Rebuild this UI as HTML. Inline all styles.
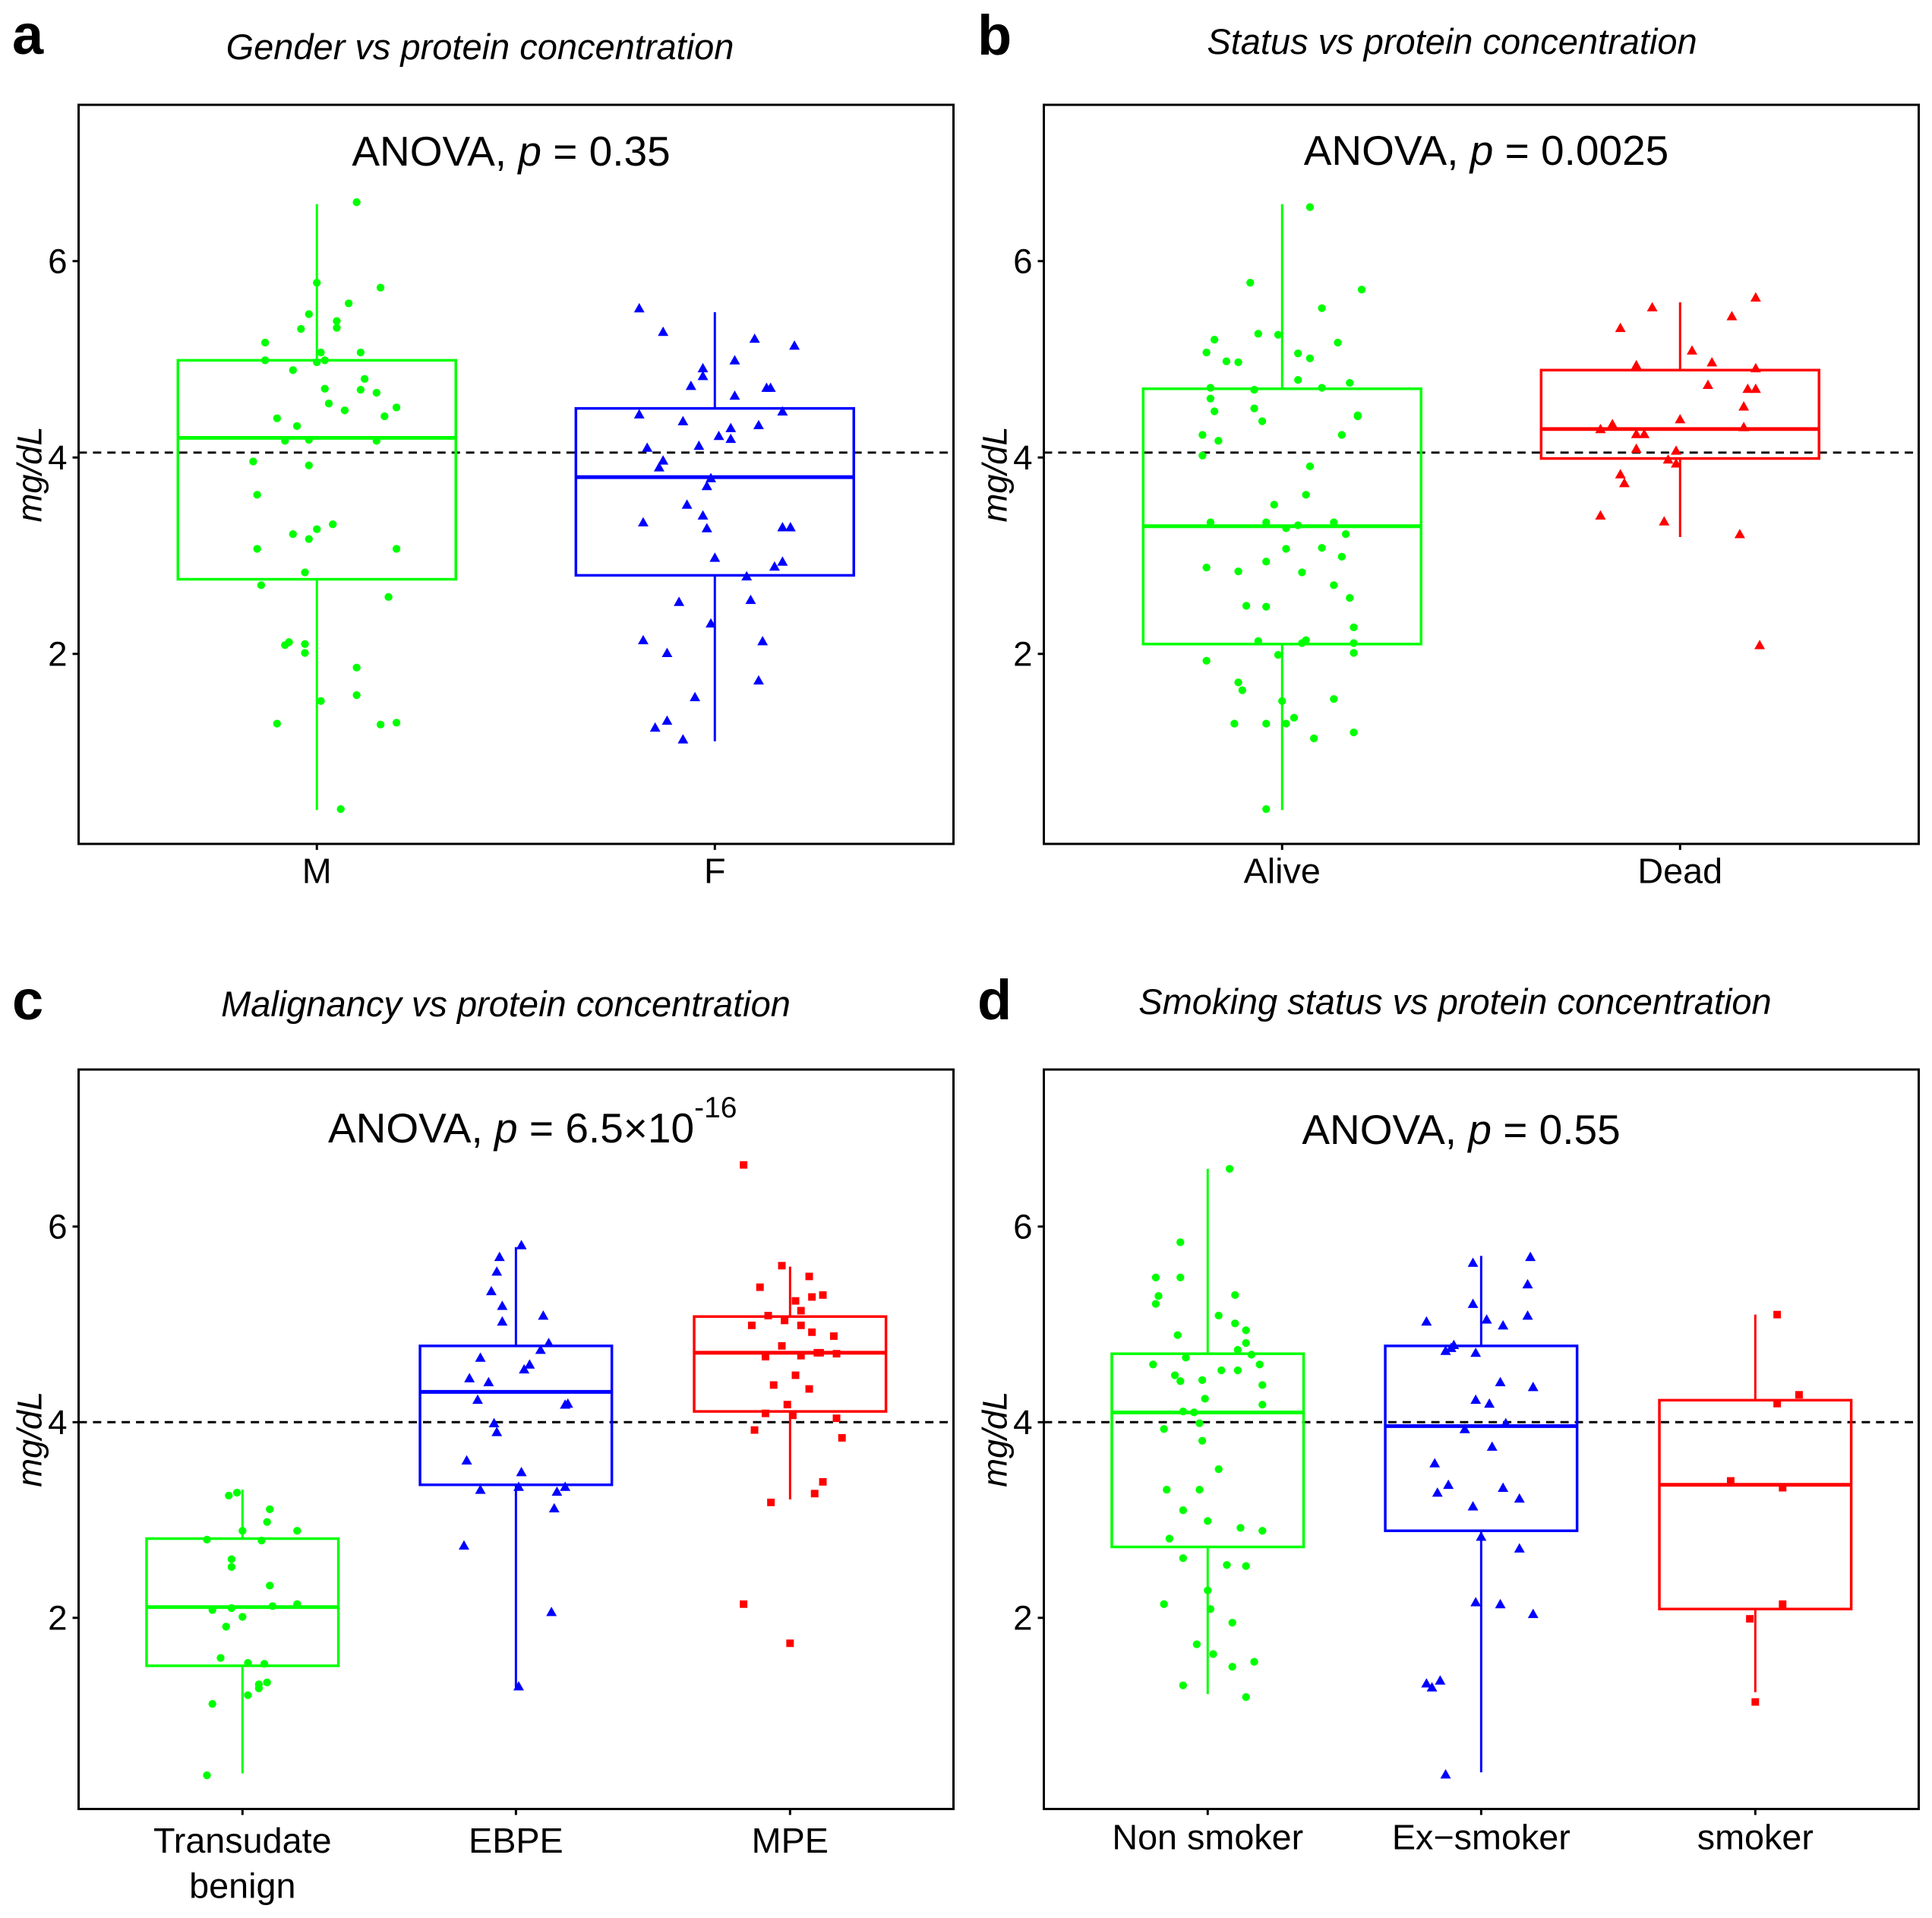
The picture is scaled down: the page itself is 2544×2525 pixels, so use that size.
<!DOCTYPE html>
<html><head><meta charset="utf-8">
<style>
html,body{margin:0;padding:0;background:#fff;}
svg text{font-family:"Liberation Sans",Arial,sans-serif;fill:#000;}
</style></head>
<body>
<svg id="fig" xmlns="http://www.w3.org/2000/svg" width="2544" height="2520" viewBox="0 0 2544 2520">
<rect x="0" y="0" width="2544" height="2520" fill="#fff"/>
</svg>
<script>
// ---------- DATA ----------
// Panel a: Gender
const aCats = ["M","F"];
const aMVals = [6.60,5.78,5.73,5.57,5.46,5.39,5.31,5.32,5.17,5.07,5.07,4.99,4.97,4.99,4.89,4.80,4.70,4.69,4.66,4.55,4.48,4.51,4.40,4.42,4.32,4.17,4.18,4.17,3.96,3.92,3.62,3.32,3.27,3.22,3.17,3.07,3.07,2.83,2.70,2.58,2.09,2.12,2.10,2.01,1.86,1.58,1.52,1.29,1.28,1.30,0.42];
const aMJit = [0.10,0.00,0.16,0.08,-0.02,0.05,-0.04,0.05,-0.13,0.11,0.01,-0.13,0.00,0.02,-0.06,0.12,0.02,0.11,0.15,0.03,0.07,0.20,-0.10,0.17,-0.05,-0.08,-0.02,0.15,-0.16,-0.02,-0.15,0.04,0.00,-0.06,-0.02,-0.15,0.20,-0.03,-0.14,0.18,-0.08,-0.07,-0.03,-0.03,0.10,0.10,0.01,-0.10,0.16,0.20,0.06];
const aFVals = [5.52,5.28,5.21,5.14,4.99,4.91,4.83,4.73,4.63,4.71,4.71,4.44,4.37,4.33,4.30,4.47,4.22,4.19,4.10,4.12,3.97,3.90,3.79,3.71,3.52,3.34,3.41,3.28,3.29,3.29,2.98,2.94,2.89,2.79,2.53,2.55,2.31,2.14,2.13,2.01,1.73,1.56,1.32,1.25,1.13];
const aFJit = [-0.19,-0.13,0.10,0.20,0.05,-0.03,-0.03,-0.06,0.05,0.13,0.14,-0.19,-0.08,0.11,0.04,0.17,0.01,0.04,-0.17,-0.04,-0.13,-0.14,-0.01,-0.02,-0.07,-0.18,-0.03,-0.02,0.17,0.19,0.00,0.17,0.15,0.08,-0.09,0.09,-0.01,-0.18,0.12,-0.12,0.11,-0.05,-0.12,-0.15,-0.08];
const aMStats = [0.41,2.76,4.20,4.99,6.58];
const aFStats = [1.11,2.80,3.80,4.50,5.48];

// Panel b: Status
const bCats = ["Alive","Dead"];
const bAVals = [6.55,5.78,5.71,5.52,5.20,5.26,5.25,5.17,5.07,5.06,5.01,4.98,4.97,4.79,4.76,4.71,4.71,4.69,4.60,4.50,4.47,4.43,4.42,4.37,4.23,4.23,4.17,4.02,3.91,3.62,3.52,3.34,3.34,3.31,3.34,3.28,3.22,3.08,3.07,2.99,2.94,2.88,2.84,2.83,2.70,2.57,2.49,2.48,2.27,2.13,2.14,2.11,2.11,1.99,2.01,1.93,1.71,1.63,1.52,1.54,1.29,1.29,1.29,1.35,1.20,1.14,0.42];
const bAJit = [0.07,-0.08,0.20,0.10,-0.17,-0.06,-0.01,0.14,-0.19,0.04,0.07,-0.14,-0.11,0.04,0.17,-0.18,0.10,-0.07,-0.18,-0.07,-0.17,0.19,0.19,-0.05,-0.20,0.15,-0.16,-0.20,0.07,0.06,-0.02,-0.18,-0.04,0.04,0.13,0.01,0.16,0.10,0.01,0.15,-0.04,-0.19,-0.11,0.05,0.13,0.17,-0.09,-0.04,0.18,-0.06,0.06,0.05,0.18,-0.01,0.18,-0.19,-0.11,-0.10,0.00,0.13,-0.12,-0.04,0.01,0.03,0.18,0.08,-0.04];
const bDVals = [5.63,5.53,5.44,5.32,5.09,4.97,4.94,4.91,4.74,4.70,4.70,4.52,4.34,4.39,4.29,4.31,4.24,4.24,4.09,4.07,3.98,3.94,3.83,3.74,3.41,3.35,3.22,2.09];
const bDJit = [0.19,-0.07,0.13,-0.15,0.03,0.08,-0.11,0.19,0.07,0.17,0.19,0.16,-0.17,0.00,-0.20,0.16,-0.11,-0.09,-0.11,-0.01,-0.03,-0.01,-0.15,-0.14,-0.20,-0.04,0.15,0.20];
const bAStats = [0.41,2.10,3.30,4.70,6.58];
const bDStats = [3.19,3.99,4.29,4.89,5.58];

// Panel c: Malignancy
const cCats = ["Transudate|benign","EBPE","MPE"];
const cTVals = [3.28,3.25,3.11,2.98,2.89,2.89,2.80,2.79,2.60,2.52,2.33,2.08,2.10,2.12,2.14,2.01,1.91,1.59,1.54,1.53,1.34,1.32,1.28,1.21,1.12,0.39];
const cTJit = [-0.02,-0.05,0.10,0.09,0.00,0.20,-0.13,0.07,-0.04,-0.04,0.10,-0.11,-0.04,0.11,0.20,0.00,-0.06,-0.08,0.02,0.08,0.09,0.06,0.06,0.02,-0.11,-0.13];
const cEVals = [5.81,5.69,5.54,5.34,5.19,5.03,5.09,4.81,4.74,4.59,4.54,4.66,4.45,4.41,4.23,4.18,4.19,3.99,3.90,3.61,3.49,3.34,3.31,3.29,3.34,3.12,2.74,2.06,1.30];
const cEJit = [0.02,-0.06,-0.07,-0.09,-0.05,-0.05,0.10,0.12,0.09,0.05,0.03,-0.13,-0.17,-0.10,-0.14,0.18,0.19,-0.08,-0.07,-0.18,0.02,0.01,-0.13,0.15,0.18,0.14,-0.19,0.13,0.01];
const cMVals = [6.63,5.60,5.49,5.38,5.24,5.28,5.30,5.14,5.09,5.04,4.99,4.99,4.92,4.88,4.78,4.71,4.71,4.70,4.67,4.68,4.48,4.38,4.34,4.18,4.09,4.07,4.04,3.92,3.84,3.39,3.27,3.18,2.14,1.74];
const cMJit = [-0.17,-0.03,0.07,-0.11,0.02,0.08,0.12,0.04,-0.08,-0.02,-0.14,0.04,0.08,0.16,-0.03,0.11,0.10,0.17,-0.09,0.04,0.02,-0.06,0.07,-0.01,-0.09,0.01,0.17,-0.13,0.19,0.12,0.09,-0.07,-0.17,0.00];
const cTStats = [0.41,1.51,2.11,2.81,3.31];
const cEStats = [1.29,3.36,4.31,4.78,5.79];
const cMStats = [3.21,4.11,4.71,5.08,5.59];

// Panel d: Smoking
const dCats = ["Non smoker","Ex\u2212smoker","smoker"];
const dNVals = [6.59,5.84,5.48,5.48,5.29,5.30,5.21,5.09,5.01,4.94,4.89,4.81,4.74,4.69,4.66,4.59,4.59,4.48,4.42,4.43,4.53,4.53,4.38,4.24,4.18,4.11,4.10,3.99,3.93,3.81,3.52,3.31,3.31,3.10,2.99,2.92,2.89,2.81,2.61,2.54,2.53,2.28,2.14,2.09,1.95,1.73,1.63,1.50,1.55,1.31,1.19];
const dNJit = [0.08,-0.10,-0.19,-0.10,-0.18,0.10,-0.19,0.04,0.10,0.14,-0.11,0.14,0.11,0.16,-0.08,-0.20,0.19,-0.12,-0.10,-0.02,0.05,0.11,0.20,-0.01,0.20,-0.09,-0.05,-0.03,-0.16,-0.02,0.04,-0.15,-0.03,-0.09,0.00,0.12,0.20,-0.14,-0.09,0.07,0.14,0.00,-0.16,0.01,0.09,-0.04,0.02,0.09,0.17,-0.09,0.14];
const dEVals = [5.69,5.63,5.41,5.21,5.09,5.03,5.05,4.99,4.79,4.76,4.73,4.71,4.41,4.36,4.23,4.19,3.99,3.93,3.75,3.58,3.36,3.28,3.33,3.22,3.14,2.83,2.71,2.16,2.14,2.04,1.36,1.33,1.29,0.40];
const dEJit = [0.18,-0.03,0.17,-0.03,0.17,-0.20,0.02,0.08,-0.10,-0.11,-0.13,-0.02,0.07,0.19,-0.02,0.03,0.09,-0.06,0.04,-0.17,-0.12,-0.16,0.08,0.14,-0.03,0.00,0.14,-0.02,0.07,0.19,-0.15,-0.20,-0.18,-0.13];
const dSVals = [5.10,4.28,4.19,3.40,3.33,2.14,1.99,1.14];
const dSJit = [0.08,0.16,0.08,-0.09,0.10,0.10,-0.02,0.00];
const dNStats = [1.22,2.725,4.10,4.70,6.59];
const dEStats = [0.42,2.89,3.96,4.78,5.70];
const dSStats = [1.24,2.09,3.36,4.225,5.10];

const refLines = [4.05, 4.05, 4.0, 4.0];
const yTicks = [2, 4, 6];

// ---------- DRAW ----------
const NS = "http://www.w3.org/2000/svg";
const svg = document.getElementById("fig");
function mk(tag, attrs, parent) {
  const e = document.createElementNS(NS, tag);
  for (const k in attrs) e.setAttribute(k, attrs[k]);
  (parent || svg).appendChild(e);
  return e;
}
const GREEN = "#00ff00", BLUE = "#0000ff", RED = "#ff0000";
const SX = 0.9944, SY = 0.9868;

const panels = [
  {id:"a", ox:0, left:103.5, right:1262, top:138, bottom:1124, y2:870.5, unit:131,
   cats:aCats, cx:[419,946], half:184, spacing:527,
   title:"Gender vs protein concentration", tx:632, ty:78, ly:71, ax:673, ay:218, anova:"0.35", ref:refLines[0],
   groups:[{v:aMVals,j:aMJit,s:aMStats,c:GREEN,shape:"circle"},{v:aFVals,j:aFJit,s:aFStats,c:BLUE,shape:"tri"}], xlabY:1176},
  {id:"b", ox:1271, left:103.5, right:1262, top:138, bottom:1124, y2:870.5, unit:131,
   cats:bCats, cx:[419,946], half:184, spacing:527,
   title:"Status vs protein concentration", tx:641, ty:71, ly:72, ax:686, ay:217, anova:"0.0025", ref:refLines[1],
   groups:[{v:bAVals,j:bAJit,s:bAStats,c:GREEN,shape:"circle"},{v:bDVals,j:bDJit,s:bDStats,c:RED,shape:"tri"}], xlabY:1176},
  {id:"c", ox:0, left:103.5, right:1262, top:1408, bottom:2394.5, y2:2139.5, unit:130.5,
   cats:cCats, cx:[320.5,682.6,1045.6], half:127, spacing:362,
   title:"Malignancy vs protein concentration", tx:666, ty:1338, ly:1342, ax:432, ay:1504, anova:null, ref:refLines[2],
   groups:[{v:cTVals,j:cTJit,s:cTStats,c:GREEN,shape:"circle"},{v:cEVals,j:cEJit,s:cEStats,c:BLUE,shape:"tri"},{v:cMVals,j:cMJit,s:cMStats,c:RED,shape:"square"}], xlabY:2453},
  {id:"d", ox:1271, left:103.5, right:1262, top:1408, bottom:2394.5, y2:2139.5, unit:130.5,
   cats:dCats, cx:[320.5,682.6,1045.6], half:127, spacing:362,
   title:"Smoking status vs protein concentration", tx:645, ty:1335, ly:1342, ax:653, ay:1506, anova:"0.55", ref:refLines[3],
   groups:[{v:dNVals,j:dNJit,s:dNStats,c:GREEN,shape:"circle"},{v:dEVals,j:dEJit,s:dEStats,c:BLUE,shape:"tri"},{v:dSVals,j:dSJit,s:dSStats,c:RED,shape:"square"}], xlabY:2448}
];

panels.forEach(function(p){
  const g = mk("g", {});
  
  
  const X = function(x){ return p.ox + x; };
  const Y = function(v){ return p.y2 - (v - 2) * p.unit; };

  const lt = mk("text", {x:X(16), y:p.ly, "font-size":74, "font-weight":"bold"}, g);
  lt.textContent = p.id;
  
  

  const tt = mk("text", {x:X(p.tx), y:p.ty, "font-size":47, "font-style":"italic", "text-anchor":"middle"}, g);
  tt.textContent = p.title;
  
  

  const L = X(p.left), T = p.top;
  const pg = mk("g", {transform:"translate(" + L + " " + T + ") scale(" + SX + " " + SY + ") translate(" + (-L) + " " + (-T) + ")"}, g);
  
  

  // y axis title
  const cy = (p.top + p.bottom) / 2;
  const yt = mk("text", {x:X(38)+16, y:cy, "font-size":46, "font-style":"italic", "text-anchor":"middle", transform:"rotate(-90 " + (X(38)+16) + " " + cy + ")"}, pg);
  yt.textContent = "mg/dL";
  
  

  yTicks.forEach(function(t){
    const yy = Y(t);
    const tk = mk("line", {x1:X(p.left-8), x2:X(p.left), y1:yy, y2:yy, stroke:"#000", "stroke-width":3}, pg);
    
    
    const tl = mk("text", {x:X(p.left-15), y:yy+16, "font-size":46, "text-anchor":"end"}, pg);
    tl.textContent = String(t);
    
    
  });

  const rl = mk("line", {x1:X(p.left), x2:X(p.right), y1:Y(p.ref), y2:Y(p.ref), stroke:"#000", "stroke-width":3, "stroke-dasharray":"11 8"}, pg);
  
  

  p.groups.forEach(function(gr, gi){
    const cx = X(p.cx[gi]);
    const s = gr.s;
    const wl = mk("line", {x1:cx, x2:cx, y1:Y(s[0]), y2:Y(s[1]), stroke:gr.c, "stroke-width":3}, pg);
    
    
    const wu = mk("line", {x1:cx, x2:cx, y1:Y(s[3]), y2:Y(s[4]), stroke:gr.c, "stroke-width":3}, pg);
    
    
    const bx = mk("rect", {x:cx-p.half, y:Y(s[3]), width:2*p.half, height:Y(s[1])-Y(s[3]), fill:"none", stroke:gr.c, "stroke-width":3.5}, pg);
    
    
    const md = mk("line", {x1:cx-p.half, x2:cx+p.half, y1:Y(s[2]), y2:Y(s[2]), stroke:gr.c, "stroke-width":5}, pg);
    
    
    gr.v.forEach(function(v, i){
      const px = cx + gr.j[i] * p.spacing, py = Y(v);
      let m;
      if (gr.shape === "circle") m = mk("circle", {cx:px, cy:py, r:5.2, fill:gr.c}, pg);
      else if (gr.shape === "tri") m = mk("polygon", {points:(px-7)+","+(py+5.5)+" "+(px+7)+","+(py+5.5)+" "+px+","+(py-7), fill:gr.c}, pg);
      else m = mk("rect", {x:px-5, y:py-5, width:10, height:10, fill:gr.c}, pg);
      
      
    });
    const xt = mk("line", {x1:cx, x2:cx, y1:p.bottom, y2:p.bottom+8, stroke:"#000", "stroke-width":3}, pg);
    
    
    const parts = p.cats[gi].split("|");
    parts.forEach(function(pt, k){
      const xl = mk("text", {x:cx, y:p.xlabY + k*60, "font-size":47, "text-anchor":"middle"}, pg);
      xl.textContent = pt;
      
      
    });
  });

  const br = mk("rect", {x:X(p.left), y:p.top, width:p.right-p.left, height:p.bottom-p.top, fill:"none", stroke:"#000", "stroke-width":3}, pg);
  
  

  let at;
  if (p.anova !== null) {
    at = mk("text", {x:X(p.ax), y:p.ay, "font-size":55, "text-anchor":"middle"}, g);
    at.innerHTML = 'ANOVA, <tspan font-style="italic">p</tspan> = ' + p.anova;
  } else {
    at = mk("text", {x:X(p.ax), y:p.ay, "font-size":55}, g);
    at.innerHTML = 'ANOVA, <tspan font-style="italic">p</tspan> = 6.5×10<tspan font-size="39" dy="-33">-16</tspan>';
  }
  
  
});
</script>
</body></html>
